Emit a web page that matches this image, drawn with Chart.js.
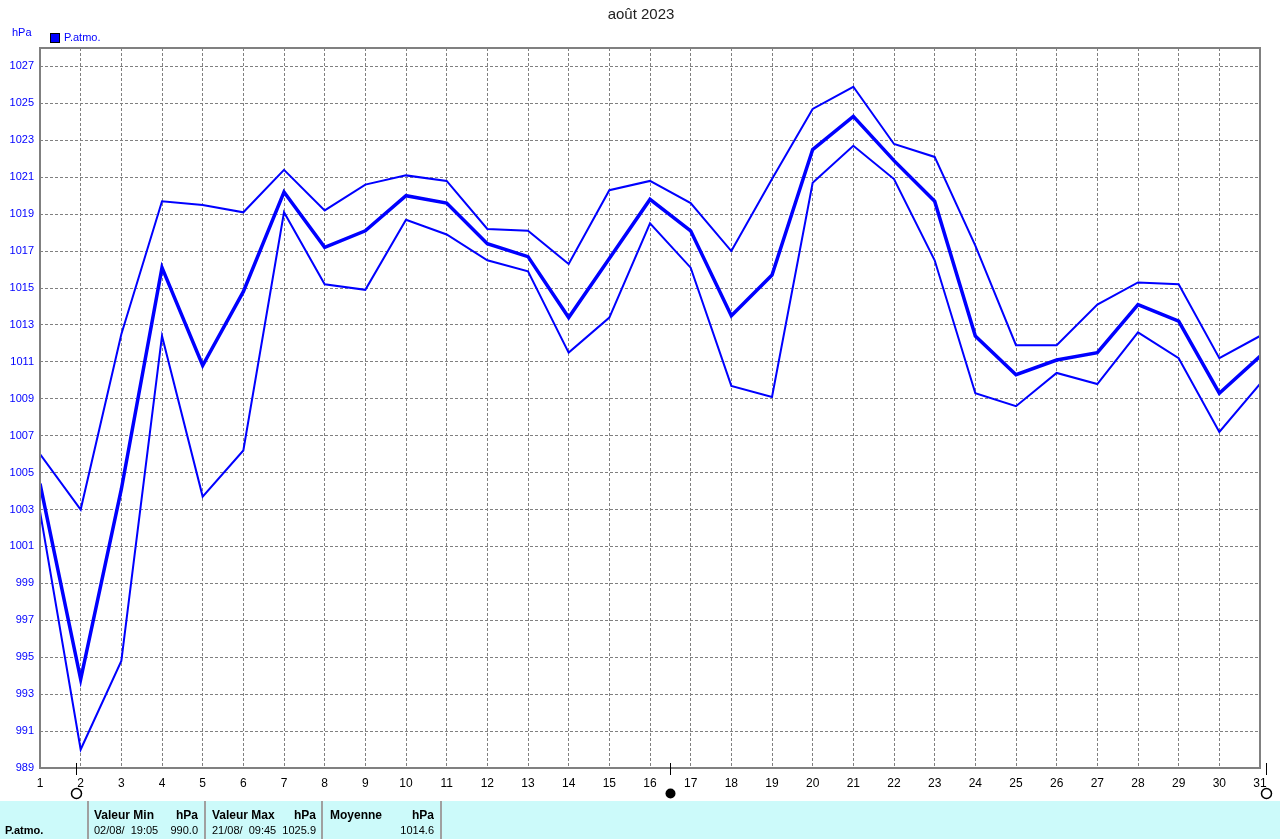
<!DOCTYPE html>
<html>
<head>
<meta charset="utf-8">
<title>P.atmo. août 2023</title>
<script src="https://cdn.jsdelivr.net/npm/chart.js@4.4.0/dist/chart.umd.min.js"></script>
<style>
  html, body { margin: 0; padding: 0; background: #fff; }
</style>
</head>
<body>
<canvas id="pression" width="1280" height="839"></canvas>
<script>
// jours du mois
const days = [1, 2, 3, 4, 5, 6, 7, 8, 9, 10, 11, 12, 13, 14, 15, 16,
  17, 18, 19, 20, 21, 22, 23, 24, 25, 26, 27, 28, 29, 30, 31];

// pression max / moyenne / min par jour (hPa)
const pMax = [1006.0, 1003.0, 1012.5, 1019.7, 1019.5, 1019.1, 1021.4, 1019.2, 1020.6, 1021.1,
  1020.8, 1018.2, 1018.1, 1016.3, 1020.3, 1020.8, 1019.6, 1017.0, 1020.9, 1024.7,
  1025.9, 1022.8, 1022.1, 1017.3, 1011.9, 1011.9, 1014.1, 1015.3, 1015.2, 1011.2, 1012.4];
const pMoy = [1004.4, 993.8, 1004.1, 1016.1, 1010.8, 1014.8, 1020.2, 1017.2, 1018.1, 1020.0,
  1019.6, 1017.4, 1016.7, 1013.4, 1016.6, 1019.8, 1018.1, 1013.5, 1015.7, 1022.5,
  1024.3, 1021.9, 1019.7, 1012.4, 1010.3, 1011.1, 1011.5, 1014.1, 1013.2, 1009.3, 1011.3];
const pMin = [1002.9, 990.0, 994.8, 1012.4, 1003.7, 1006.2, 1019.1, 1015.2, 1014.9, 1018.7,
  1017.9, 1016.5, 1015.9, 1011.5, 1013.4, 1018.5, 1016.1, 1009.7, 1009.1, 1020.7,
  1022.7, 1020.9, 1016.5, 1009.3, 1008.6, 1010.4, 1009.8, 1012.6, 1011.2, 1007.2, 1009.8];

const yTicks = [989, 991, 993, 995, 997, 999, 1001, 1003, 1005, 1007, 1009, 1011,
  1013, 1015, 1017, 1019, 1021, 1023, 1025, 1027];

// phases de lune (jour décimal) : true = pleine lune, false = nouvelle lune
const moonDays = [1.88, 16.5, 31.15];
const moonFull = [true, false, true];

// tableau récapitulatif
const statHeaders = ['Valeur Min', 'Valeur Max', 'Moyenne'];
const statWhen = ['02/08/  19:05', '21/08/  09:45', ''];
const statValues = ['990.0', '1025.9', '1014.6'];

const BLUE = '#0000ff';
const FONT = '"Liberation Sans", Arial, sans-serif';

const toPoints = arr => days.map((d, i) => ({ x: d, y: arr[i] }));

const decor = {
  id: 'decor',
  afterDraw(chart) {
    const c = chart.ctx;
    const a = chart.chartArea;
    const xs = chart.scales.x;
    c.save();

    // cadre
    c.strokeStyle = '#808080';
    c.lineWidth = 2;
    c.strokeRect(a.left, a.top, a.right - a.left, a.bottom - a.top);

    // titre
    c.fillStyle = '#222';
    c.font = '15px ' + FONT;
    c.textAlign = 'center';
    c.textBaseline = 'middle';
    c.fillText('août 2023', 641, 15);

    // unité + légende
    c.fillStyle = BLUE;
    c.font = '11px ' + FONT;
    c.textAlign = 'left';
    c.fillText('hPa', 12, 33);
    c.fillRect(50, 33, 10, 10);
    c.strokeStyle = '#000';
    c.lineWidth = 1;
    c.strokeRect(50.5, 33.5, 9, 9);
    c.fillStyle = BLUE;
    c.fillText('P.atmo.', 64, 38);

    // phases de lune
    moonDays.forEach((d, i) => {
      const px = Math.round(xs.getPixelForValue(d)) + 0.5;
      c.strokeStyle = '#000';
      c.lineWidth = 1;
      c.beginPath();
      c.moveTo(px, a.bottom - 5);
      c.lineTo(px, a.bottom + 7);
      c.stroke();
      c.beginPath();
      c.arc(px, 793.5, 5, 0, Math.PI * 2);
      if (moonFull[i]) {
        c.lineWidth = 1.5;
        c.stroke();
      } else {
        c.fillStyle = '#000';
        c.fill();
      }
    });

    // tableau du bas
    c.fillStyle = '#ccfafa';
    c.fillRect(0, 801, 1280, 38);
    c.strokeStyle = '#a0a0a0';
    c.lineWidth = 2;
    [88, 205, 322, 441].forEach(x => {
      c.beginPath();
      c.moveTo(x, 801);
      c.lineTo(x, 839);
      c.stroke();
    });
    c.fillStyle = '#000';
    c.font = 'bold 11px ' + FONT;
    c.textAlign = 'left';
    c.fillText('P.atmo.', 5, 831);
    const colLeft = [94, 212, 330];
    const colRight = [198, 316, 434];
    statHeaders.forEach((h, i) => {
      c.font = 'bold 12px ' + FONT;
      c.textAlign = 'left';
      c.fillText(h, colLeft[i], 816);
      c.textAlign = 'right';
      c.fillText('hPa', colRight[i], 816);
      c.font = '11px ' + FONT;
      c.textAlign = 'left';
      c.fillText(statWhen[i], colLeft[i], 831);
      c.textAlign = 'right';
      c.fillText(statValues[i], colRight[i], 831);
    });

    c.restore();
  }
};

new Chart(document.getElementById('pression'), {
  type: 'line',
  data: {
    datasets: [
      { label: 'P.atmo. max', data: toPoints(pMax), borderColor: BLUE, borderWidth: 2 },
      { label: 'P.atmo.', data: toPoints(pMoy), borderColor: BLUE, borderWidth: 3.5 },
      { label: 'P.atmo. min', data: toPoints(pMin), borderColor: BLUE, borderWidth: 2 }
    ]
  },
  options: {
    responsive: false,
    animation: false,
    elements: {
      point: { radius: 0, hoverRadius: 0 },
      line: { tension: 0, fill: false }
    },
    layout: { padding: { top: 48, right: 20, bottom: 39, left: 0 } },
    plugins: {
      legend: { display: false },
      title: { display: false },
      tooltip: { enabled: false }
    },
    scales: {
      x: {
        type: 'linear',
        min: 1,
        max: 31,
        afterFit: s => { s.height = 32; },
        ticks: {
          stepSize: 1,
          autoSkip: false,
          maxRotation: 0,
          padding: 8,
          color: '#000',
          font: { family: FONT, size: 12 },
          callback: v => String(v)
        },
        grid: { color: '#808080', lineWidth: 1, drawTicks: false },
        border: { display: false, dash: [3, 2] }
      },
      y: {
        min: 989,
        max: 1028,
        afterFit: s => { s.width = 40; },
        afterBuildTicks: s => { s.ticks = yTicks.map(v => ({ value: v })); },
        ticks: {
          padding: 6,
          color: BLUE,
          font: { family: FONT, size: 11 },
          callback: v => String(v)
        },
        grid: { color: '#808080', lineWidth: 1, drawTicks: false },
        border: { display: false, dash: [3, 2] }
      }
    }
  },
  plugins: [decor]
});
</script>
</body>
</html>
